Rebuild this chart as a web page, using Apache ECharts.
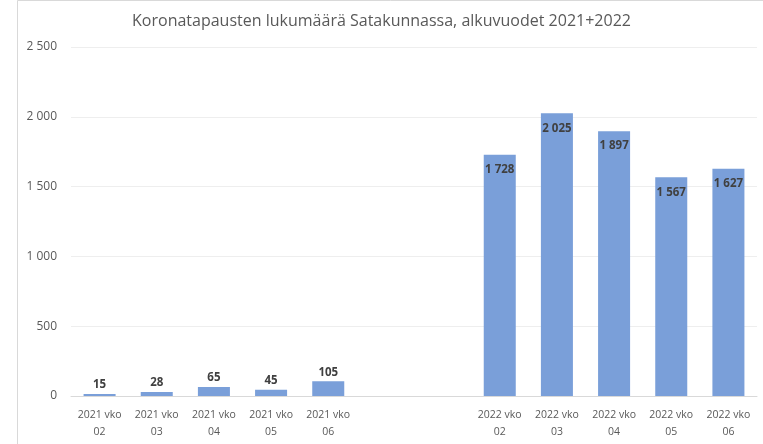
<!DOCTYPE html>
<html>
<head>
<meta charset="utf-8">
<script src="https://cdn.jsdelivr.net/npm/echarts@6/dist/echarts.min.js"></script>
<style>
  html, body { margin: 0; padding: 0; background: #fff; }
  #chart { width: 763px; height: 444px; }
</style>
</head>
<body>
<div id="chart"></div>
<script>
// viikot, kaksi tyhjää saraketta vuosien välissä
var weeks2021 = ['2021 vko 02', '2021 vko 03', '2021 vko 04', '2021 vko 05', '2021 vko 06'];
var weeks2022 = ['2022 vko 02', '2022 vko 03', '2022 vko 04', '2022 vko 05', '2022 vko 06'];
var cases2021 = [15, 28, 65, 45, 105];
var cases2022 = [1728, 2025, 1897, 1567, 1627];
var yTicks = [0, 500, 1000, 1500, 2000, 2500];

var gapCats = ['', ''];
var categories = weeks2021.concat(gapCats, weeks2022);

function fmt(v) {
  return String(v).replace(/\B(?=(\d{3})+(?!\d))/g, ' ');
}

var data = [];
cases2021.forEach(function (v) {
  data.push({ value: v, label: { position: 'top', distance: 3 } });
});
gapCats.forEach(function () { data.push(null); });
cases2022.forEach(function (v) {
  data.push({ value: v, label: { position: 'insideTop', distance: 9 } });
});

var myChart = echarts.init(document.getElementById('chart'));
var option = {
  animation: false,
  backgroundColor: '#fff',
  title: {
    text: 'Koronatapausten lukumäärä Satakunnassa, alkuvuodet 2021+2022',
    left: 'center',
    top: 8,
    textStyle: {
      fontFamily: 'Open Sans',
      fontSize: 16,
      fontWeight: 'normal',
      color: '#595959'
    }
  },
  graphic: [{
    type: 'rect',
    shape: { x: 17.5, y: 0.5, width: 800, height: 500 },
    style: { fill: 'none', stroke: '#d9d9d9', lineWidth: 1 },
    silent: true
  }],
  grid: { left: 71, right: 6, top: 47, bottom: 48 },
  xAxis: {
    type: 'category',
    data: categories,
    axisTick: { show: false },
    axisLine: { lineStyle: { color: '#d9d9d9', width: 1 } },
    axisLabel: {
      interval: 0,
      color: '#595959',
      fontFamily: 'Open Sans',
      fontSize: 10.5,
      lineHeight: 17,
      margin: 11,
      formatter: function (v) { return v.replace(/ (\d+)$/, '\n$1'); }
    }
  },
  yAxis: {
    type: 'value',
    min: yTicks[0],
    max: yTicks[yTicks.length - 1],
    interval: 500,
    axisLine: { show: false },
    axisTick: { show: false },
    splitLine: { lineStyle: { color: '#eeeeee' } },
    axisLabel: {
      color: '#595959',
      fontFamily: 'Open Sans',
      fontSize: 12,
      margin: 14,
      formatter: function (v) { return fmt(v); }
    }
  },
  series: [{
    type: 'bar',
    data: data,
    barWidth: '56%',
    itemStyle: { color: '#7a9fd9' },
    label: {
      show: true,
      color: '#404040',
      fontFamily: 'Open Sans',
      fontSize: 11.5,
      fontWeight: 'bold',
      formatter: function (p) { return fmt(p.value); }
    }
  }]
};
myChart.setOption(option);
window.addEventListener('resize', function () { myChart.resize(); });
</script>
</body>
</html>
